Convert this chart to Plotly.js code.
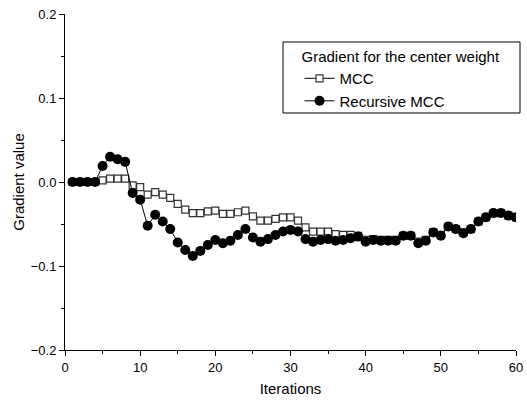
<!DOCTYPE html>
<html>
<head>
<meta charset="utf-8">
<script src="https://cdn.plot.ly/plotly-3.0.1.min.js"></script>
<style>html,body{margin:0;padding:0;background:#fff;}#chart{width:527px;height:400px;}</style>
</head>
<body>
<div id="chart"></div>
<script>
var iterations = [];
for (var i = 1; i <= 60; i++) iterations.push(i);

var mccValues = [
  0.000, 0.000, 0.000, 0.000, 0.002, 0.004, 0.004, 0.004, -0.004, -0.006,
  -0.015, -0.012, -0.015, -0.019, -0.026, -0.033, -0.037, -0.037, -0.035, -0.034,
  -0.038, -0.038, -0.036, -0.034, -0.041, -0.046, -0.046, -0.044, -0.042, -0.042,
  -0.046, -0.054, -0.059, -0.059, -0.059, -0.062, -0.063, -0.063, -0.064, -0.069,
  -0.068, -0.069, -0.069, -0.069, -0.064, -0.064, -0.071, -0.069, -0.060, -0.063,
  -0.053, -0.056, -0.060, -0.056, -0.047, -0.042, -0.037, -0.037, -0.040, -0.042
];

var recursiveValues = [
  0.000, 0.000, 0.000, 0.000, 0.019, 0.030, 0.027, 0.024, -0.013, -0.021,
  -0.052, -0.039, -0.047, -0.056, -0.072, -0.081, -0.088, -0.082, -0.075, -0.069,
  -0.073, -0.070, -0.063, -0.056, -0.066, -0.071, -0.068, -0.063, -0.059, -0.057,
  -0.059, -0.068, -0.071, -0.069, -0.068, -0.070, -0.069, -0.067, -0.065, -0.071,
  -0.069, -0.070, -0.070, -0.070, -0.064, -0.064, -0.073, -0.070, -0.060, -0.064,
  -0.053, -0.056, -0.061, -0.056, -0.047, -0.042, -0.037, -0.037, -0.040, -0.042
];

var xTickVals = [0, 10, 20, 30, 40, 50, 60];
var yTickVals = [-0.2, -0.1, 0.0, 0.1, 0.2];

var traces = [
  {
    x: iterations, y: mccValues, type: 'scatter', mode: 'lines+markers', name: 'MCC',
    line: {color: '#000000', width: 1},
    marker: {symbol: 'square', size: 7, color: '#ffffff', line: {width: 1.2, color: '#333333'}}
  },
  {
    x: iterations, y: recursiveValues, type: 'scatter', mode: 'lines+markers', name: 'Recursive MCC',
    line: {color: '#000000', width: 1},
    marker: {symbol: 'circle', size: 10, color: '#000000'}
  }
];

var layout = {
  width: 527, height: 400,
  margin: {l: 65, r: 11, t: 14, b: 50},
  paper_bgcolor: '#ffffff', plot_bgcolor: '#ffffff',
  font: {family: 'Liberation Sans, Arial, sans-serif', color: '#000000', size: 13},
  showlegend: true,
  legend: {
    x: 0.52, y: 0.915, xanchor: 'left', yanchor: 'top',
    bgcolor: 'rgba(0,0,0,0)', borderwidth: 0,
    font: {size: 15, color: '#000000'},
    title: {text: 'Gradient for the center weight', font: {size: 15, color: '#000000'}, side: 'top'},
    tracegroupgap: 0
  },
  shapes: [{
    type: 'rect', xref: 'paper', yref: 'paper',
    x0: 0.4834, x1: 1.0089, y0: 0.7054, y1: 0.9167,
    line: {color: '#000000', width: 1}, fillcolor: 'rgba(0,0,0,0)', layer: 'above'
  }],
  xaxis: {
    range: [0, 60], tickvals: xTickVals, ticktext: xTickVals.map(String),
    showline: true, linecolor: '#000000', linewidth: 1, mirror: false,
    ticks: 'outside', ticklen: 5, tickcolor: '#000000',
    showgrid: false, zeroline: false,
    minor: {dtick: 5, tick0: 0, ticks: 'outside', ticklen: 3, tickcolor: '#000000', showgrid: false},
    title: {text: 'Iterations', font: {size: 15, color: '#000000'}, standoff: 9},
    tickfont: {size: 13, color: '#000000'}
  },
  yaxis: {
    range: [-0.2, 0.2], tickvals: yTickVals, tickformat: '.1f',
    showline: true, linecolor: '#000000', linewidth: 1, mirror: false,
    ticks: 'outside', ticklen: 5, tickcolor: '#000000',
    showgrid: false, zeroline: false,
    minor: {dtick: 0.05, tick0: 0, ticks: 'outside', ticklen: 3, tickcolor: '#000000', showgrid: false},
    title: {text: 'Gradient value', font: {size: 15, color: '#000000'}, standoff: 2},
    tickfont: {size: 13, color: '#000000'}
  }
};

Plotly.newPlot('chart', traces, layout, {displayModeBar: false, staticPlot: true});
</script>
</body>
</html>
